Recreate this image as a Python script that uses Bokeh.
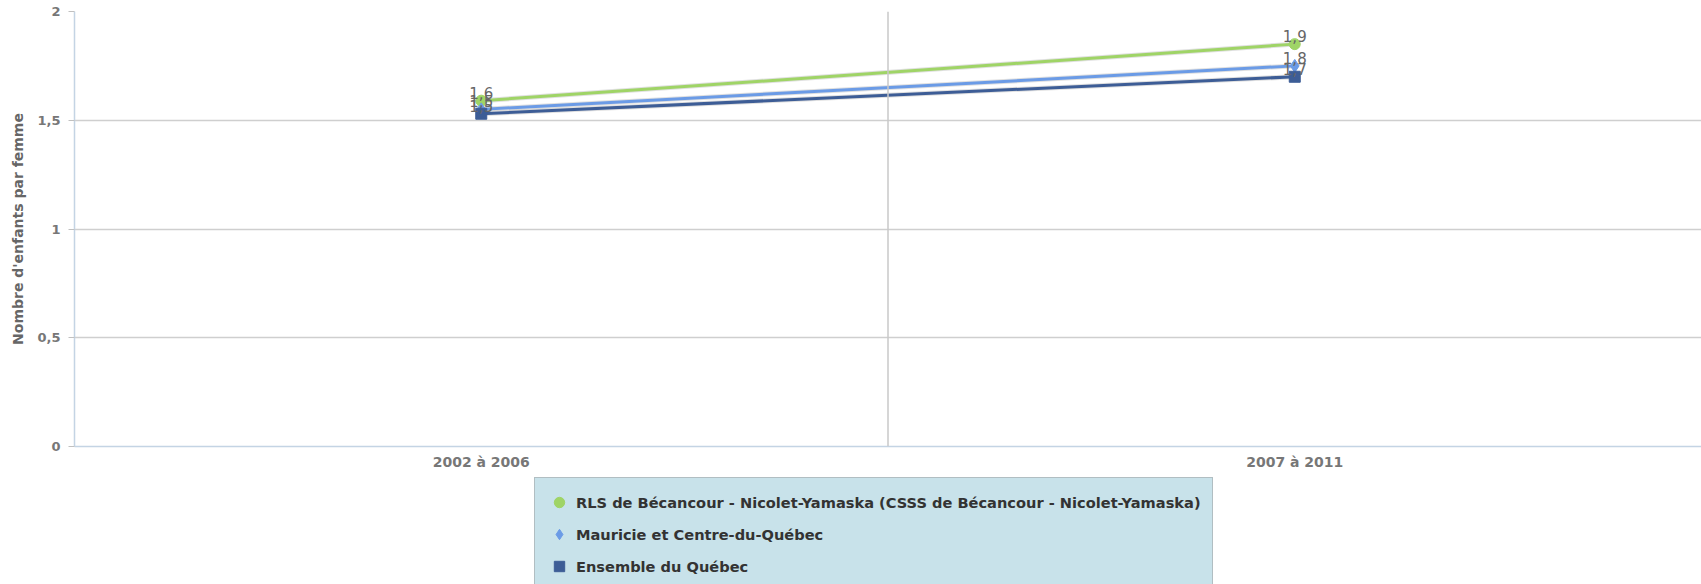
from bokeh.plotting import figure
from bokeh.models import (ColumnDataSource, FactorRange, Range1d, Span, Legend,
                          LegendItem)
from bokeh.layouts import column
from bokeh.embed import file_html
from bokeh.resources import INLINE
from bokeh.core.properties import value

categories = ["2002 à 2006", "2007 à 2011"]
series_names = [
    "RLS de Bécancour - Nicolet-Yamaska (CSSS de Bécancour - Nicolet-Yamaska)",
    "Mauricie et Centre-du-Québec",
    "Ensemble du Québec",
]
rls_values = [1.59, 1.85]
mauricie_values = [1.55, 1.75]
quebec_values = [1.53, 1.70]
rls_labels = ["1,6", "1,9"]
mauricie_labels = ["1,5", "1,8"]
quebec_labels = ["1,5", "1,7"]
y_ticks = [0, 0.5, 1, 1.5, 2]
y_tick_labels = ["0", "0,5", "1", "1,5", "2"]

colors = ["#9fd466", "#6b9be6", "#3d5d96"]
markers = ["circle", "diamond", "square"]
FONT = "DejaVu Sans"

p = figure(frame_width=1627, frame_height=435, x_range=FactorRange(*categories),
           y_range=Range1d(0, 2), output_backend="svg", toolbar_location=None,
           min_border_left=74, min_border_top=11, min_border_right=0,
           min_border_bottom=31)
p.outline_line_color = None
p.xgrid.visible = False
p.ygrid.grid_line_color = "#cfcfcf"
p.ygrid.grid_line_width = 1.5
p.yaxis.ticker = y_ticks
p.yaxis.major_label_overrides = {t: l for t, l in zip(y_ticks, y_tick_labels)}

for ax in (p.xaxis[0], p.yaxis[0]):
    ax.axis_line_color = "#c4d4e4"
    ax.axis_line_width = 1.5
    ax.major_label_text_font = FONT
    ax.major_label_text_font_style = "bold"
    ax.major_label_text_color = "#777777"
    ax.major_label_text_font_size = "13px"
    ax.minor_tick_line_color = None
p.yaxis.major_tick_line_color = "#c0c0c0"
p.yaxis.major_tick_in = 0
p.yaxis.major_tick_out = 6
p.yaxis.major_label_standoff = 8
p.xaxis.major_tick_line_color = None
p.xaxis.major_tick_in = 0
p.xaxis.major_tick_out = 0
p.xaxis.major_label_standoff = 7
p.xaxis.major_label_text_font_size = "14px"
p.yaxis.axis_label = "Nombre d'enfants par femme"
p.yaxis.axis_label_text_font = FONT
p.yaxis.axis_label_text_font_style = "bold"
p.yaxis.axis_label_text_font_size = "14px"
p.yaxis.axis_label_text_color = "#666666"
p.yaxis.axis_label_standoff = 8

p.add_layout(Span(location=1, dimension="height", line_color="#c8c8c8",
                  line_width=1.5))

# legend figure below the chart
p2 = figure(width=1701, height=107, x_range=FactorRange(*categories),
            y_range=Range1d(10, 11), output_backend="svg", toolbar_location=None,
            min_border=0)
p2.axis.visible = False
p2.grid.visible = False
p2.outline_line_color = None

items = []
for name, vals, labs, col, mk in zip(series_names,
                                     [rls_values, mauricie_values, quebec_values],
                                     [rls_labels, mauricie_labels, quebec_labels],
                                     colors, markers):
    src = ColumnDataSource(dict(x=categories, y=vals, lab=labs))
    p.line("x", "y", source=src, line_color="#000000", line_alpha=0.12,
           line_width=5)
    p.line("x", "y", source=src, line_color=col, line_width=3)
    p.scatter("x", "y", source=src, marker=mk, size=11 if mk != "diamond" else 13,
              fill_color=col, line_color=col)
    p.text("x", "y", text="lab", source=src, text_align="center",
           text_baseline="bottom", y_offset=-2, text_font=value(FONT),
           text_font_size="15px", text_color="#666666")
    # same series in the legend panel (outside its visible range)
    sc2 = p2.scatter("x", "y", source=src, marker=mk,
                     size=11 if mk != "diamond" else 13,
                     fill_color=col, line_color=col)
    items.append(LegendItem(label=name, renderers=[sc2]))

legend = Legend(items=items, location=(460, -7), orientation="vertical",
                background_fill_color="#c8e2ea", background_fill_alpha=1.0,
                border_line_color="#999999", border_line_width=1.5,
                label_text_font=FONT, label_text_font_style="bold",
                label_text_font_size="14.6px", label_text_color="#333333",
                padding=11, spacing=6, glyph_width=26, glyph_height=26,
                label_standoff=4, margin=0)
p2.add_layout(legend, "center")

layout = column(p, p2, spacing=0)
open("out.html", "w").write(file_html(layout, INLINE))
